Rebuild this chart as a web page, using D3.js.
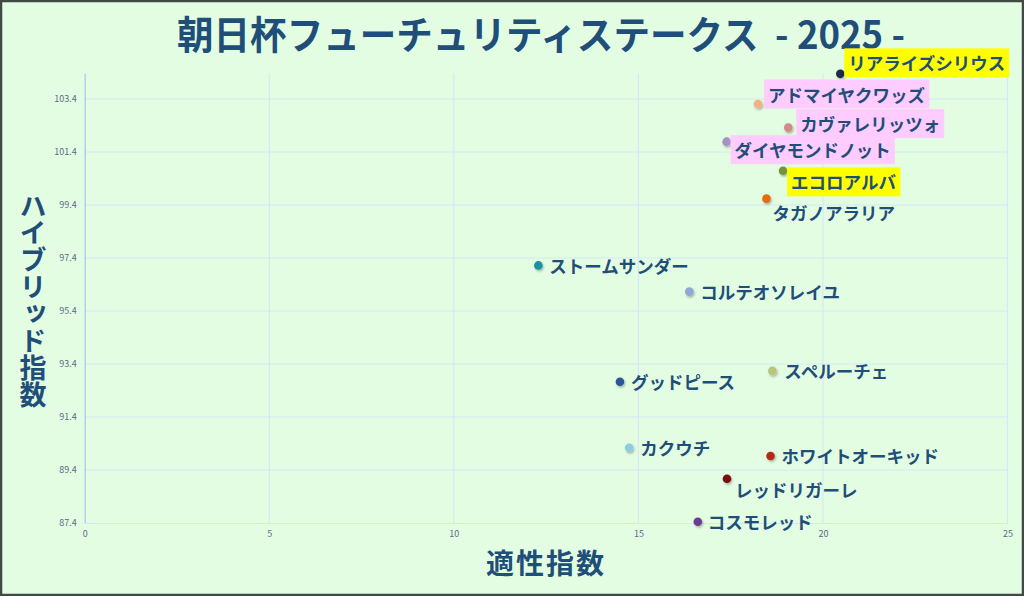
<!DOCTYPE html>
<html>
<head>
<meta charset="utf-8">
<script src="https://cdn.jsdelivr.net/npm/d3@7"></script>
<style>
html,body{margin:0;padding:0;background:#e3fde3;}
svg{display:block;}
</style>
</head>
<body>
<svg id="chart" width="1024" height="596"></svg>
<script>
// ---- data ----
const horses = ["リアライズシリウス","アドマイヤクワッズ","カヴァレリッツォ","ダイヤモンドノット","エコロアルバ","タガノアラリア","ストームサンダー","コルテオソレイユ","グッドピース","スペルーチェ","カクウチ","ホワイトオーキッド","レッドリガーレ","コスモレッド"];
const aptitude = [20.47,18.24,19.06,17.39,18.92,18.47,12.29,16.38,14.50,18.63,14.75,18.58,17.40,16.61];
const hybrid = [104.35,103.21,102.32,101.79,100.69,99.64,97.12,96.13,92.73,93.14,90.24,89.93,89.07,87.45];
const highlight = ["yellow","pink","pink","pink","yellow","","","","","","","","",""];
const pointColors = ["#1c2b4a","#f4b183","#d48a8a","#a891c0","#76923c","#e46c0a","#1f8fa0","#8fa8d8","#2e5597","#b5c77a","#8ccbe0","#b22a1e","#7a1010","#6a3d8f"];
const xTicks = [0,5,10,15,20,25];
const yTicks = [87.4,89.4,91.4,93.4,95.4,97.4,99.4,101.4,103.4];
const title = "朝日杯フューチュリティステークス  - 2025 -";
const xTitle = "適性指数";
const yTitle = "ハイブリッド指数";
// label offsets (dx, dy) relative to each point
const labelDx = [8,10,12,8,8,6,11,11,11,12,11,11,8,10];
const labelDy = [-11,-10,-4,8,11,14,0,0,0,0,0,0,11,0];

(function(){
const svg = d3.select("#chart");
const W = 1024, H = 596;
const pL = 84.7, pR = 1007.5, pT = 73.3, pB = 523;
const x = d3.scaleLinear().domain([0,25]).range([pL,pR]);
const y = d3.scaleLinear().domain([87.4,104.37]).range([pB,pT]);
const font = "'Noto Sans CJK JP','Noto Sans',sans-serif";
const textColor = "#1f4e79";

svg.append("rect").attr("x",0).attr("y",0).attr("width",W).attr("height",H).attr("fill","#e3fde3");

const defs = svg.append("defs");
const f = defs.append("filter").attr("id","shadow").attr("x","-50%").attr("y","-50%").attr("width","200%").attr("height","200%");
f.append("feDropShadow").attr("dx",1).attr("dy",1.5).attr("stdDeviation",1).attr("flood-color","#000").attr("flood-opacity",0.3);

// grid
const grid = svg.append("g");
grid.selectAll("line.h").data(yTicks.slice(1)).join("line")
  .attr("x1",pL).attr("x2",pR).attr("y1",d=>y(d)).attr("y2",d=>y(d))
  .attr("stroke","#d5e8f5").attr("stroke-width",1.2);
grid.selectAll("line.v").data(xTicks.slice(1)).join("line")
  .attr("y1",pT).attr("y2",pB).attr("x1",d=>x(d)).attr("x2",d=>x(d))
  .attr("stroke","#d5e8f5").attr("stroke-width",1.2);

// axes
const yAxis = svg.append("g").attr("transform",`translate(${pL},0)`)
  .call(d3.axisLeft(y).tickValues(yTicks).tickSize(0).tickPadding(8).tickFormat(d3.format(".1f")));
yAxis.select(".domain").attr("stroke","#a9c9ef").attr("stroke-width",1.3);
yAxis.selectAll("text").attr("font-family",font).attr("font-size",9).attr("fill","#5b6b86");

const xAxis = svg.append("g").attr("transform",`translate(0,${pB})`)
  .call(d3.axisBottom(x).tickValues(xTicks).tickSize(0).tickPadding(8).tickFormat(d3.format("d")));
xAxis.select(".domain").attr("stroke","#d5e8f5").attr("stroke-width",1.2);
xAxis.selectAll("text").attr("font-family",font).attr("font-size",9).attr("fill","#5b6b86");

// title
svg.append("text").attr("x",177).attr("y",48.5).attr("font-family",font).attr("font-weight","bold")
  .attr("font-size",38.5).attr("fill",textColor).attr("textLength",728).attr("lengthAdjust","spacingAndGlyphs")
  .attr("xml:space","preserve").text(title);

// axis titles
svg.append("text").attr("x",546).attr("y",574).attr("text-anchor","middle").attr("font-family",font)
  .attr("font-weight","bold").attr("font-size",28).attr("letter-spacing",2).attr("fill",textColor).text(xTitle);
svg.append("text").attr("x",33).attr("y",192).attr("font-family",font)
  .attr("font-weight","bold").attr("font-size",27).attr("fill",textColor)
  .style("writing-mode","vertical-rl").style("text-orientation","upright").text(yTitle);

// points
const data = horses.map((n,i)=>({name:n,x:aptitude[i],y:hybrid[i],hl:highlight[i],c:pointColors[i],dx:labelDx[i],dy:labelDy[i]}));
svg.append("g").selectAll("circle").data(data).join("circle")
  .attr("cx",d=>x(d.x)).attr("cy",d=>y(d.y)).attr("r",4.3)
  .attr("fill",d=>d.c).attr("filter","url(#shadow)");

// labels
const lg = svg.append("g");
data.forEach(d=>{
  const g = lg.append("g").attr("transform",`translate(${x(d.x)+d.dx},${y(d.y)+d.dy})`);
  const t = g.append("text").attr("x",0).attr("y",0).attr("dominant-baseline","central")
    .attr("font-family",font).attr("font-weight","bold").attr("font-size",17.5)
    .attr("fill",textColor).text(d.name);
  if (d.hl) {
    const bb = t.node().getBBox();
    g.insert("rect","text").attr("x",bb.x-4).attr("y",-14.5).attr("width",bb.width+8).attr("height",29)
      .attr("fill",d.hl==="yellow"?"#ffff00":"#ffccff");
  }
});

// outer frame
svg.append("rect").attr("x",1).attr("y",1).attr("width",W-2).attr("height",H-2)
  .attr("fill","none").attr("stroke","#3f4a44").attr("stroke-width",2.5);
})();
</script>
</body>
</html>
